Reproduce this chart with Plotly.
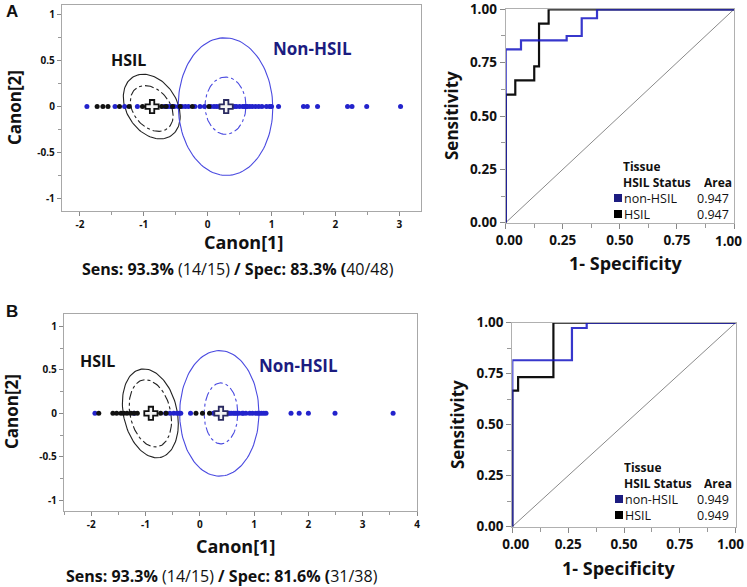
import numpy as np
import plotly.graph_objects as go

W, H = 747, 587

# ---------------- data ----------------
# Panel A: canonical scores
a_hsil_c1 = [-1.73, -1.64, -1.56, -1.38, -1.23, -1.02, -0.95, -0.88, -0.80, -0.72, -0.65, -0.55, -0.43, -0.24, 0.02]
a_hsil_c2 = [0.0] * 15
a_non_c1 = [-1.89, -1.45, -1.30, -1.10, -0.68, -0.62, -0.58, -0.52, -0.46, -0.40, -0.35, -0.30, -0.20, -0.12, -0.05,
            0.05, 0.10, 0.14, 0.18, 0.22, 0.25, 0.28, 0.31, 0.34, 0.38, 0.42, 0.45, 0.50, 0.55, 0.58, 0.60, 0.62,
            0.66, 0.70, 0.75, 0.80, 0.85, 0.92, 0.97, 1.00, 1.11, 1.50, 1.56, 1.72, 2.19, 2.26, 2.49, 3.02]
a_non_c2 = [0.0] * 48
a_centroids_c1 = [-0.87, 0.29]
a_centroids_c2 = [0.0, 0.0]

# Panel B: canonical scores
b_hsil_c1 = [-1.86, -1.60, -1.53, -1.45, -1.40, -1.34, -1.27, -1.21, -1.15, -0.95, -0.72, -0.62, -0.07, 0.05, 0.18]
b_hsil_c2 = [0.0] * 15
b_non_c1 = [-1.93, -1.21, -0.63, -0.55, -0.48, -0.42, -0.38, -0.35, -0.17, 0.25, 0.30, 0.35, 0.42, 0.45, 0.48,
            0.52, 0.55, 0.58, 0.62, 0.65, 0.68, 0.72, 0.78, 0.80, 0.85, 0.92, 0.97, 1.03, 1.07, 1.10, 1.14, 1.18,
            1.22, 1.68, 1.83, 2.00, 2.49, 3.56]
b_non_c2 = [0.0] * 38
b_centroids_c1 = [-0.90, 0.39]
b_centroids_c2 = [0.0, 0.0]

# ellipse parameters: (center x, center y, radius x, radius y, tilt)
a_hsil_ell = [(-0.875, 0.0, 0.445, 0.334, 0.235), (-0.875, -0.02, 0.335, 0.235, 0.235)]
a_non_ell = [(0.28, 0.0, 0.74, 0.745, 0.02), (0.28, 0.01, 0.32, 0.31, 0.0)]
b_hsil_ell = [(-0.91, 0.0, 0.515, 0.496, 0.23), (-0.91, 0.0, 0.39, 0.375, 0.23)]
b_non_ell = [(0.36, 0.0, 0.73, 0.72, 0.0), (0.39, 0.0, 0.31, 0.35, 0.0)]

# ROC curves (1-specificity, sensitivity)
a_roc_non_fpr = [0, 0, 0.067, 0.067, 0.267, 0.267, 0.333, 0.333, 0.400, 0.400, 1]
a_roc_non_tpr = [0, 0.8125, 0.8125, 0.854, 0.854, 0.875, 0.875, 0.958, 0.958, 1, 1]
a_roc_hsil_fpr = [0, 0, 0.042, 0.042, 0.125, 0.125, 0.146, 0.146, 0.188, 0.188, 1]
a_roc_hsil_tpr = [0, 0.600, 0.600, 0.667, 0.667, 0.733, 0.733, 0.933, 0.933, 1, 1]
b_roc_non_fpr = [0, 0, 0.267, 0.267, 0.333, 0.333, 1]
b_roc_non_tpr = [0, 0.816, 0.816, 0.974, 0.974, 1, 1]
b_roc_hsil_fpr = [0, 0, 0.026, 0.026, 0.184, 0.184, 1]
b_roc_hsil_tpr = [0, 0.667, 0.667, 0.733, 0.733, 1, 1]
a_auc = ["0.947", "0.947"]
b_auc = ["0.949", "0.949"]

scatter_y_ticks = [-1, -0.5, 0, 0.5, 1]
scatter_y_text = ["-1", "-0.5", "0", "0.5", "1"]
a_x_ticks = [-2, -1, 0, 1, 2, 3]
b_x_ticks = [-2, -1, 0, 1, 2, 3, 4]
roc_ticks = [0, 0.25, 0.5, 0.75, 1]
roc_text = ["0.00", "0.25", "0.50", "0.75", "1.00"]

# ---------------- style ----------------
FONT = "Open Sans"
BLUE = "#2323cc"
BLUE_LINE = "#4a4ae0"
NAVY = "#1c1c80"
BLACK = "#111111"

def dx(px):
    return px / W

def dy(py):
    return 1 - py / H

fig = go.Figure()

def ellipse(p, n=120):
    cx, cy, rx, ry, k = p
    t = np.linspace(0, 2 * np.pi, n)
    return cx + rx * np.cos(t), cy + ry * np.sin(t) - k * rx * np.cos(t)

def scatter_panel(xa, ya, hsil, non, cen, hell, nell):
    for i, p in enumerate(hell):
        ex, ey = ellipse(p)
        fig.add_trace(go.Scatter(x=ex, y=ey, mode="lines", xaxis=xa, yaxis=ya,
                                 line=dict(color="#222222", width=1.1, dash="solid" if i == 0 else "dashdot"),
                                 showlegend=False, hoverinfo="skip"))
    for i, p in enumerate(nell):
        ex, ey = ellipse(p)
        fig.add_trace(go.Scatter(x=ex, y=ey, mode="lines", xaxis=xa, yaxis=ya,
                                 line=dict(color=BLUE_LINE, width=1.1, dash="solid" if i == 0 else "dashdot"),
                                 showlegend=False, hoverinfo="skip"))
    fig.add_trace(go.Scatter(x=non[0], y=non[1], mode="markers", xaxis=xa, yaxis=ya,
                             marker=dict(color=BLUE, size=5), showlegend=False))
    fig.add_trace(go.Scatter(x=hsil[0], y=hsil[1], mode="markers", xaxis=xa, yaxis=ya,
                             marker=dict(color=BLACK, size=5), showlegend=False))
    fig.add_trace(go.Scatter(x=cen[0], y=cen[1], mode="markers", xaxis=xa, yaxis=ya,
                             marker=dict(symbol="cross", size=11, color="#f4f4f4",
                                         line=dict(color=["#111111", "#2a2a60"], width=1.8)),
                             showlegend=False))

def roc_panel(xa, ya, hsil, non):
    fig.add_trace(go.Scatter(x=[0, 1], y=[0, 1], mode="lines", xaxis=xa, yaxis=ya,
                             line=dict(color="#8a8a8a", width=1), showlegend=False))
    fig.add_trace(go.Scatter(x=hsil[0], y=hsil[1], mode="lines", xaxis=xa, yaxis=ya,
                             line=dict(color=BLACK, width=2.2), showlegend=False))
    fig.add_trace(go.Scatter(x=non[0], y=non[1], mode="lines", xaxis=xa, yaxis=ya, opacity=0.85,
                             line=dict(color="#1414c4", width=2.2), showlegend=False))

scatter_panel("x", "y", (a_hsil_c1, a_hsil_c2), (a_non_c1, a_non_c2), (a_centroids_c1, a_centroids_c2),
              a_hsil_ell, a_non_ell)
roc_panel("x2", "y2", (a_roc_hsil_fpr, a_roc_hsil_tpr), (a_roc_non_fpr, a_roc_non_tpr))
scatter_panel("x3", "y3", (b_hsil_c1, b_hsil_c2), (b_non_c1, b_non_c2), (b_centroids_c1, b_centroids_c2),
              b_hsil_ell, b_non_ell)
roc_panel("x4", "y4", (b_roc_hsil_fpr, b_roc_hsil_tpr), (b_roc_non_fpr, b_roc_non_tpr))

TICKFONT_ROC = dict(family=FONT, size=13.5, color="#111111", weight="bold")

def sc_axis(domain, rng, ticks, text, minor_step, anchor):
    return dict(domain=domain, range=rng, anchor=anchor, showgrid=False, zeroline=False, automargin=False,
                showline=True, linecolor="#a8a8a8", linewidth=1.3, mirror=True,
                ticks="outside", ticklen=4, tickcolor="#888888", tickwidth=1,
                tickvals=ticks, ticktext=text, ticklabeloverflow="allow",
                tickfont=dict(family=FONT, size=10, color="#111111", weight="bold"),
                minor=dict(dtick=minor_step, ticks="outside", ticklen=3, tickcolor="#999999"))

def roc_axis(domain, anchor, texts):
    return dict(domain=domain, range=[0, 1], anchor=anchor, showgrid=False, zeroline=False, automargin=False,
                showline=True, linecolor="#b0b0b0", linewidth=1.2, mirror=True,
                ticks="outside", ticklen=5, tickcolor="#888888",
                tickvals=roc_ticks, ticktext=texts, ticklabeloverflow="allow",
                tickfont=TICKFONT_ROC,
                minor=dict(tick0=0.125, dtick=0.25, ticks="outside", ticklen=4, tickcolor="#999999"))

# x labels of ROC: first label nudged inward; last label is placed separately (kept inside the page)
roc_x_text = ["&nbsp;&nbsp;" + roc_text[0]] + roc_text[1:4] + [""]

layout = dict(
    width=W, height=H, margin=dict(l=0, r=0, t=0, b=0, autoexpand=False),
    paper_bgcolor="white", plot_bgcolor="white", showlegend=False,
    xaxis=sc_axis([dx(62), dx(421)], [-2.28, 3.34], a_x_ticks, [str(v) for v in a_x_ticks], 0.5, "y"),
    yaxis=sc_axis([dy(211), dy(5)], [-1.13, 1.10], scatter_y_ticks, scatter_y_text, 0.25, "x"),
    xaxis2=roc_axis([dx(505.7), dx(734)], "y2", roc_x_text),
    yaxis2=roc_axis([dy(222.7), dy(9.3)], "x2", roc_text),
    xaxis3=sc_axis([dx(64), dx(417)], [-2.5, 4.0], b_x_ticks, [str(v) for v in b_x_ticks], 0.5, "y3"),
    yaxis3=sc_axis([dy(511), dy(314)], [-1.12, 1.14], scatter_y_ticks, scatter_y_text, 0.25, "x3"),
    xaxis4=roc_axis([dx(512.3), dx(735.7)], "y4", roc_x_text),
    yaxis4=roc_axis([dy(526.7), dy(322.7)], "x4", roc_text),
)
fig.update_layout(**layout)

def ann(text, px, py, size, color="#111111", bold=True, xanchor="center", angle=0, family=FONT, height=None):
    kw = {}
    if height is not None:
        kw["height"] = height
    fig.add_annotation(text=text, x=dx(px), y=dy(py), xref="paper", yref="paper", showarrow=False,
                       xanchor=xanchor, yanchor="middle", textangle=angle, borderpad=0,
                       font=dict(family=family, size=size, color=color, weight="bold" if bold else "normal"),
                       **kw)

# last ROC x tick label, tied to the x axis value 1 but kept inside the page
for xa, ya_px in (("x2", 241), ("x4", 544)):
    fig.add_annotation(text=roc_text[4], x=roc_ticks[4], xref=xa, y=dy(ya_px), yref="paper",
                       showarrow=False, xanchor="right", yanchor="middle", xshift=9, borderpad=0,
                       font=TICKFONT_ROC)

# panel letters
ann("A", 12, 11, 17, family="Arial")
ann("B", 12, 311, 17, family="Arial")

# scatter group labels
ann("HSIL", 128, 60, 16)
ann("Non-HSIL", 312, 49, 17, color=NAVY)
ann("HSIL", 97, 361, 16)
ann("Non-HSIL", 298, 365, 17, color=NAVY)

# axis titles
ann("Canon[1]", 243, 242, 18)
ann("Canon[1]", 235, 546, 18)
ann("Canon[2]", 14, 108, 17, angle=-90)
ann("Canon[2]", 11, 412, 17, angle=-90)
ann("Sensitivity", 452, 116, 17, angle=-90)
ann("Sensitivity", 457, 424, 17, angle=-90)
ann("1- Specificity", 625, 263, 18)
ann("1- Specificity", 618, 568, 18)

# summary lines
ann("<b>Sens: 93.3%</b> <span style='font-weight:normal'>(14/15)</span> <b>/ Spec: 83.3% (</b><span style='font-weight:normal'>40/48)</span>",
    238, 269, 16, bold=False)
ann("<b>Sens: 93.3%</b> <span style='font-weight:normal'>(14/15)</span> <b>/ Spec: 81.6% (</b><span style='font-weight:normal'>31/38)</span>",
    222, 576, 16, bold=False)

# ROC legends
def roc_legend(x0, ytissue, aucs, right):
    ann("Tissue", x0, ytissue, 12, xanchor="left", height=13)
    ann("HSIL Status", x0, ytissue + 16, 12, xanchor="left", height=13)
    ann("Area", right, ytissue + 16, 12, xanchor="right", height=13)
    names = ["non-HSIL", "HSIL"]
    cols = [NAVY, "#000000"]
    for i in range(2):
        yy = ytissue + 32 + 16 * i
        fig.add_shape(type="rect", xref="paper", yref="paper",
                      x0=dx(x0 - 8), x1=dx(x0), y0=dy(yy + 4), y1=dy(yy - 4),
                      fillcolor=cols[i], line=dict(width=0))
        ann(names[i], x0 + 1, yy, 12.5, bold=False, xanchor="left", height=13)
        ann(aucs[i], right - 3, yy, 12.5, bold=False, xanchor="right", height=13)

roc_legend(622, 166, a_auc, 733)
roc_legend(623, 467, b_auc, 733)

fig.write_html("out.html", config={"displayModeBar": False},
               post_script="document.body.style.margin='0';document.body.style.overflow='hidden';")
